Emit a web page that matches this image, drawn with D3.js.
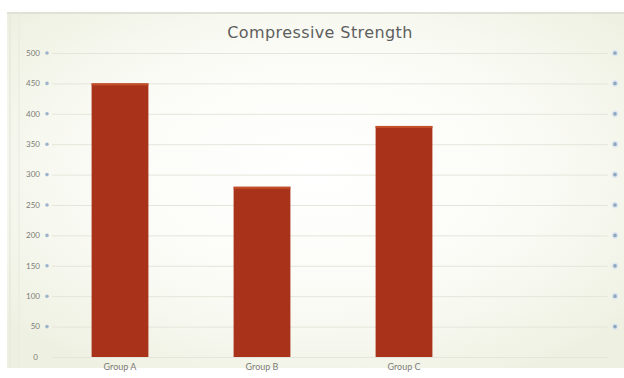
<!DOCTYPE html>
<html>
<head>
<meta charset="utf-8">
<script src="https://cdn.jsdelivr.net/npm/d3@7"></script>
<style>
  body { margin: 0; background: #fff; }
  text { font-family: "Lato", "DejaVu Sans", sans-serif; }
</style>
</head>
<body>
<div id="chart"></div>
<script>
// chart data
var groups = ["Group A", "Group B", "Group C"];
var strength = [450, 280, 380];
var yTicks = [0, 50, 100, 150, 200, 250, 300, 350, 400, 450, 500];

var width = 624, height = 378;

var svg = d3.select("#chart").append("svg")
    .attr("width", width)
    .attr("height", height);

// soft cream background with a lighter centre
var defs = svg.append("defs");
var grad = defs.append("radialGradient")
    .attr("id", "bg")
    .attr("cx", "50%").attr("cy", "45%").attr("r", "65%");
grad.append("stop").attr("offset", "0%").attr("stop-color", "#ffffff");
grad.append("stop").attr("offset", "55%").attr("stop-color", "#fbfbf6");
grad.append("stop").attr("offset", "100%").attr("stop-color", "#eef1e2");

svg.append("rect")
    .attr("x", 7).attr("y", 12)
    .attr("width", width - 7).attr("height", 356)
    .attr("fill", "url(#bg)");

// frame lines
svg.append("line")
    .attr("x1", 7).attr("x2", width).attr("y1", 13).attr("y2", 13)
    .attr("stroke", "#dfe1d6").attr("stroke-width", 2);
svg.append("line")
    .attr("x1", 10).attr("x2", 10).attr("y1", 12).attr("y2", 368)
    .attr("stroke", "#e3e5da");
svg.append("line")
    .attr("x1", 19).attr("x2", 19).attr("y1", 12).attr("y2", 368)
    .attr("stroke", "#e8eadf");

var x = d3.scaleBand()
    .domain(groups)
    .range([49, 475])
    .paddingInner(0.6)
    .paddingOuter(0.3);

var y = d3.scaleLinear()
    .domain([0, 500])
    .range([357, 53]);

// grid lines
svg.append("g")
    .selectAll("line")
    .data(yTicks)
    .enter().append("line")
    .attr("x1", 52).attr("x2", 608)
    .attr("y1", function(d) { return y(d) + 0.5; })
    .attr("y2", function(d) { return y(d) + 0.5; })
    .attr("stroke", "#e4e6db");

// left tick labels
var left = svg.append("g");
left.selectAll("text")
    .data(yTicks)
    .enter().append("text")
    .attr("x", function(d) { return d === 0 ? 38 : 40; })
    .attr("y", function(d) { return y(d); })
    .attr("dy", "0.35em")
    .attr("text-anchor", "end")
    .attr("font-size", 8)
    .attr("fill", "#7c7c76")
    .text(function(d) { return d; });

left.selectAll("circle")
    .data(yTicks.filter(function(d) { return d > 0; }))
    .enter().append("circle")
    .attr("cx", 47)
    .attr("cy", function(d) { return y(d); })
    .attr("r", 1.8)
    .attr("fill", "#9db4cc");

// right side markers
svg.append("g")
    .selectAll("circle")
    .data(yTicks.filter(function(d) { return d > 0; }))
    .enter().append("circle")
    .attr("cx", 615)
    .attr("cy", function(d) { return y(d); })
    .attr("r", 2.6)
    .attr("fill", "#8ea7bf")
    .attr("stroke", "#dfe8ef")
    .attr("stroke-width", 1.5);

// bars
var bars = svg.append("g");
bars.selectAll("rect.bar")
    .data(strength)
    .enter().append("rect")
    .attr("class", "bar")
    .attr("x", function(d, i) { return x(groups[i]); })
    .attr("y", function(d) { return y(d); })
    .attr("width", x.bandwidth())
    .attr("height", function(d) { return y(0) - y(d); })
    .attr("fill", "#a8321a");

// lighter top edge of each bar
bars.selectAll("rect.edge")
    .data(strength)
    .enter().append("rect")
    .attr("class", "edge")
    .attr("x", function(d, i) { return x(groups[i]); })
    .attr("y", function(d) { return y(d); })
    .attr("width", x.bandwidth())
    .attr("height", 2)
    .attr("fill", "#c4502a");

// category labels
svg.append("g")
    .selectAll("text")
    .data(groups)
    .enter().append("text")
    .attr("x", function(d) { return x(d) + x.bandwidth() / 2; })
    .attr("y", 370)
    .attr("text-anchor", "middle")
    .attr("font-size", 9)
    .attr("fill", "#7c7c76")
    .text(function(d) { return d; });

// title
svg.append("text")
    .attr("x", 320)
    .attr("y", 38)
    .attr("text-anchor", "middle")
    .attr("font-size", 16)
    .attr("fill", "#5e5e5e")
    .style("letter-spacing", "0.4px")
    .style("font-family", "'DejaVu Sans', sans-serif")
    .text("Compressive Strength");
</script>
</body>
</html>
